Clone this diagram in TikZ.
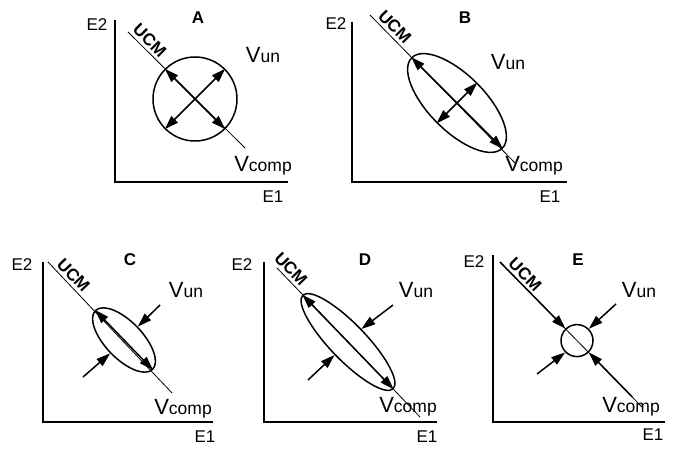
\documentclass[tikz,border=0pt]{standalone}
\usepackage{fontspec}
\setmainfont{Liberation Sans}
\usetikzlibrary{arrows.meta,shapes.geometric}

\newcommand{\bigv}[1]{{\fontsize{22}{24}\selectfont V}#1}

\begin{document}
\begin{tikzpicture}[
  x=1pt, y=1pt,
  axis/.style={line width=2.2pt},
  ucm/.style={line width=0.8pt},
  ring/.style={draw, line width=1.5pt, inner sep=0pt},
  dbl/.style={{Triangle[length=14pt,width=9pt]}-{Triangle[length=14pt,width=9pt]}, line width=1.5pt},
  push/.style={-{Triangle[length=14pt,width=9pt]}, line width=1.5pt},
  label/.style={font=\fontsize{17}{20}\selectfont},
  var/.style={font=\fontsize{17.5}{22}\selectfont, inner sep=1pt},
  tag/.style={font=\fontsize{17}{20}\selectfont\bfseries},
  ucmlabel/.style={font=\fontsize{17}{18}\selectfont\bfseries, sloped, above=2pt, inner sep=1pt}
]
\useasboundingbox (0,0) rectangle (674,449);

% Panel A
\coordinate (a-top) at (115,429);
\coordinate (a-o) at (115,267);
\coordinate (a-x) at (288,267);
\draw[axis] (a-top) -- (a-o) -- (a-x);
\node[label] (a-e2) at (97,424) {E2};
\node[label] (a-e1) at (273,252) {E1};
\node[tag] (a-tag) at (198,431) {A};
\coordinate (a-u1) at (128,417);
\coordinate (a-u2) at (245,301);
\draw[ucm] (a-u1) -- node[ucmlabel, pos=0.13] (a-ucm) {UCM} (a-u2);
\node[ring, circle, minimum size=84pt] (ca) at (195,350) {};
\draw[dbl] (ca.135) -- (ca.-45);
\draw[dbl] (ca.45) -- (ca.-135);
\node[var] (a-vun) at (263,394) {\bigv{un}};
\node[var] (a-vcomp) at (263,283) {\bigv{comp}};

% Panel B
\coordinate (b-top) at (352,427);
\coordinate (b-o) at (352,267);
\coordinate (b-x) at (567,267);
\draw[axis] (b-top) -- (b-o) -- (b-x);
\node[label] (b-e2) at (336,425) {E2};
\node[label] (b-e1) at (550,252) {E1};
\node[tag] (b-tag) at (465,431) {B};
\coordinate (b-u1) at (370,434);
\coordinate (b-u2) at (515,286);
\draw[ucm] (b-u1) -- node[ucmlabel, pos=0.125] (b-ucm) {UCM} (b-u2);
\node[ring, ellipse, minimum width=128pt, minimum height=56pt, rotate=-45] (eb) at (457,346) {};
\draw[dbl] (eb.west) -- (eb.east);
\draw[dbl] (eb.north) -- (eb.south);
\node[var] (b-vun) at (508,387) {\bigv{un}};
\node[var] (b-vcomp) at (534,283) {\bigv{comp}};

% Panel C
\coordinate (c-top) at (43,187);
\coordinate (c-o) at (43,27);
\coordinate (c-x) at (213,27);
\draw[axis] (c-top) -- (c-o) -- (c-x);
\node[label] (c-e2) at (22,184) {E2};
\node[label] (c-e1) at (205,12) {E1};
\node[tag] (c-tag) at (130,189) {C};
\coordinate (c-u1) at (48,187);
\coordinate (c-u2) at (172,56);
\draw[ucm] (c-u1) -- node[ucmlabel, pos=0.15] (c-ucm) {UCM} (c-u2);
\node[ring, ellipse, minimum width=82pt, minimum height=37pt, rotate=-46] (ec) at (124,109) {};
\draw[dbl] (ec.west) -- (ec.east);
\coordinate (c-p1) at (160,144);
\coordinate (c-p2) at (83,72);
\draw[push] (c-p1) -- (ec.north);
\draw[push] (c-p2) -- (ec.south);
\node[var] (c-vun) at (186,159) {\bigv{un}};
\node[var] (c-vcomp) at (183,40) {\bigv{comp}};

% Panel D
\coordinate (d-top) at (264,187);
\coordinate (d-o) at (264,27);
\coordinate (d-x) at (437,27);
\draw[axis] (d-top) -- (d-o) -- (d-x);
\node[label] (d-e2) at (242,184) {E2};
\node[label] (d-e1) at (427,12) {E1};
\node[tag] (d-tag) at (365,189) {D};
\coordinate (d-u1) at (277,181);
\coordinate (d-u2) at (420,32);
\draw[ucm] (d-u1) -- node[ucmlabel, pos=0.05] (d-ucm) {UCM} (d-u2);
\node[ring, ellipse, minimum width=130pt, minimum height=36pt, rotate=-46] (ed) at (348,107) {};
\draw[dbl] (ed.west) -- (ed.east);
\coordinate (d-p1) at (393,144);
\coordinate (d-p2) at (308,69);
\draw[push] (d-p1) -- (ed.north);
\draw[push] (d-p2) -- (ed.south);
\node[var] (d-vun) at (416,159) {\bigv{un}};
\node[var] (d-vcomp) at (408,42) {\bigv{comp}};

% Panel E
\coordinate (e-top) at (493,194);
\coordinate (e-o) at (493,27);
\coordinate (e-x) at (665,27);
\draw[axis] (e-top) -- (e-o) -- (e-x);
\node[label] (e-e2) at (474,187) {E2};
\node[label] (e-e1) at (653,14) {E1};
\node[tag] (e-tag) at (578,189) {E};
\coordinate (e-u1) at (500,187);
\coordinate (e-u2) at (642,42);
\draw[ucm] (e-u1) -- node[ucmlabel, pos=0.13] (e-ucm) {UCM} (e-u2);
\node[ring, circle, minimum size=32pt] (ce) at (577,108.4) {};
\coordinate (e-p0) at (632.1,52.2);
\coordinate (e-p1) at (616,145);
\coordinate (e-p2) at (537,75);
\draw[push] (e-u1) -- (ce.134.4);
\draw[push] (e-p0) -- (ce.-45.6);
\draw[push] (e-p1) -- (ce.45);
\draw[push] (e-p2) -- (ce.-135);
\node[var] (e-vun) at (639,159) {\bigv{un}};
\node[var] (e-vcomp) at (631,42) {\bigv{comp}};

\end{tikzpicture}
\end{document}
